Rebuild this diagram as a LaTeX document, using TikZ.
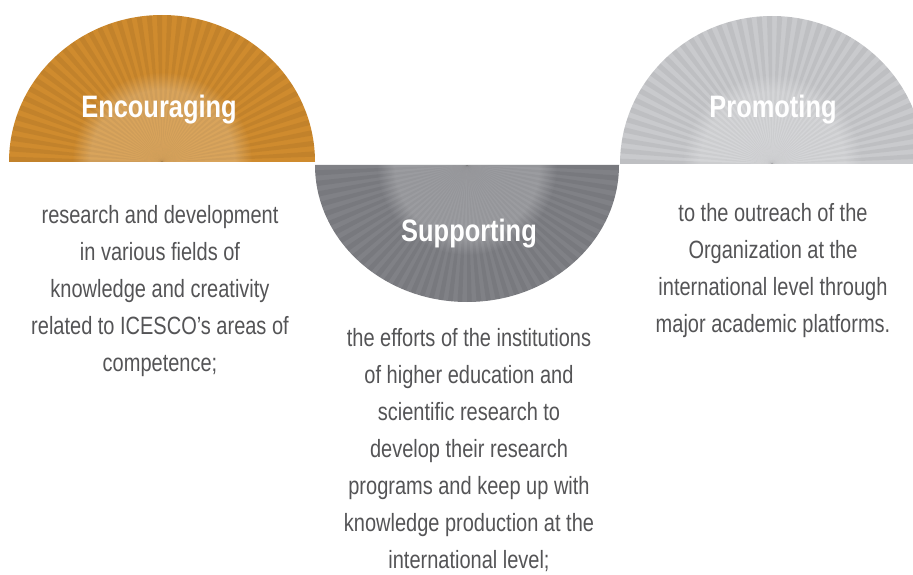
\documentclass[tikz,border=0pt]{standalone}
\usepackage{fontspec}
\setmainfont{Liberation Sans}
\newfontfamily\narrowfont[FakeStretch=0.82]{Liberation Sans}
\newfontfamily\bodyfont[FakeStretch=0.8]{Liberation Sans}
\usetikzlibrary{fadings}
\definecolor{myorange}{RGB}{207,139,46}
\definecolor{mygrey}{RGB}{128,129,134}
\definecolor{mylightgrey}{RGB}{201,202,205}
\definecolor{mytext}{RGB}{84,84,86}
\tikzstyle{title}=[text=white,font=\narrowfont\bfseries\fontsize{31}{31}\selectfont]
\tikzstyle{body}=[text=mytext,align=center,font=\bodyfont\fontsize{25}{37}\selectfont]
\tikzstyle{ray}=[black,opacity=0.06]
\tikzstyle{glow}=[white,opacity=0.22,path fading=circle with fuzzy edge 20 percent]

\begin{document}
\begin{tikzpicture}[x=1pt,y=-1pt]
  \useasboundingbox (0,0) rectangle (913,575);
  \clip (0,0) rectangle (913,575);

  % ENCOURAGING
  \begin{scope}[shift={(162,162)}]
    \def\rx{153}
    \def\ry{147}
    \fill[myorange] (-\rx,0) arc[start angle=180, end angle=360, x radius=\rx, y radius=\ry] -- cycle;
    \begin{scope}
      \clip (-\rx,0) arc[start angle=180, end angle=360, x radius=\rx, y radius=\ry] -- cycle;
      \foreach \a in {180,184,...,356}
        \fill[ray] (0,0) -- (\a:200) -- (\a+2:200) -- cycle;
      \fill[glow] (0,0) circle (90);
    \end{scope}
    \node[title] (enc) at (-3,-52) {Encouraging};
  \end{scope}

  % SUPPORTING
  \begin{scope}[shift={(467,165)}]
    \def\rx{152}
    \def\ry{137}
    \fill[mygrey] (\rx,0) arc[start angle=0, end angle=180, x radius=\rx, y radius=\ry] -- cycle;
    \begin{scope}
      \clip (\rx,0) arc[start angle=0, end angle=180, x radius=\rx, y radius=\ry] -- cycle;
      \foreach \a in {0,4,...,176}
        \fill[ray] (0,0) -- (\a:200) -- (\a+2:200) -- cycle;
      \fill[glow] (0,0) circle (90);
    \end{scope}
    \node[title] (sup) at (2,69) {Supporting};
  \end{scope}

  % PROMOTING
  \begin{scope}[shift={(772,164)}]
    \def\rx{152}
    \def\ry{148}
    \fill[mylightgrey] (-\rx,0) arc[start angle=180, end angle=360, x radius=\rx, y radius=\ry] -- cycle;
    \begin{scope}
      \clip (-\rx,0) arc[start angle=180, end angle=360, x radius=\rx, y radius=\ry] -- cycle;
      \foreach \a in {180,184,...,356}
        \fill[ray,opacity=0.05] (0,0) -- (\a:200) -- (\a+2:200) -- cycle;
      \fill[glow] (0,0) circle (90);
    \end{scope}
    \node[title] (pro) at (1,-54) {Promoting};
  \end{scope}

  % TEXTS
  \node[body] (enctext) at (160,291) {research and development\\in various fields of\\knowledge and creativity\\related to ICESCO’s areas of\\competence;};
  \node[body] (suptext) at (469,450) {the efforts of the institutions\\of higher education and\\scientific research to\\develop their research\\programs and keep up with\\knowledge production at the\\international level;};
  \node[body] (protext) at (773,271) {to the outreach of the\\Organization at the\\international level through\\major academic platforms.};
\end{tikzpicture}
\end{document}
